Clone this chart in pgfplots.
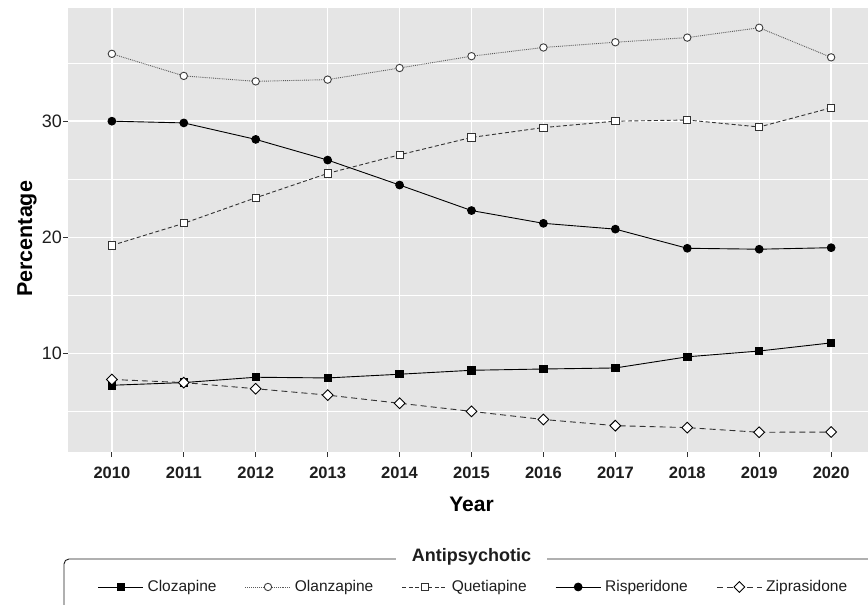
\documentclass[border=0pt]{standalone}
\usepackage{pgfplots}
\usepackage{pgfplotstable}
\pgfplotsset{compat=1.18}
\usepackage{fontspec}
\setmainfont{Liberation Sans}

\definecolor{panel}{RGB}{229,229,229}
\definecolor{tickcol}{RGB}{51,51,51}
\definecolor{labcol}{RGB}{30,30,30}
\definecolor{olanline}{RGB}{90,90,90}
\definecolor{olanmark}{RGB}{60,60,60}
\definecolor{quetline}{RGB}{50,50,50}

% share of prescriptions per year
\pgfplotstableread{
year  cloz  olan   quet   risp   zipr
2010  7.25  35.80  19.30  30.00  7.75
2011  7.48  33.90  21.20  29.85  7.48
2012  7.94  33.43  23.40  28.43  6.95
2013  7.88  33.58  25.50  26.65  6.40
2014  8.20  34.58  27.10  24.50  5.70
2015  8.54  35.60  28.60  22.30  5.00
2016  8.65  36.35  29.45  21.20  4.30
2017  8.74  36.80  30.00  20.70  3.77
2018  9.70  37.20  30.10  19.05  3.60
2019 10.20  38.05  29.50  18.97  3.20
2020 10.90  35.50  31.15  19.10  3.22
}\data

\begin{document}
\begin{tikzpicture}
\begin{axis}[
  scale only axis,
  width=807pt, height=444pt,
  xmin=2009.39, xmax=2020.61,
  ymin=1.5, ymax=39.75,
  axis background/.style={fill=panel},
  axis line style={draw=none},
  xtick={2010,2011,2012,2013,2014,2015,2016,2017,2018,2019,2020},
  xticklabels={2010,2011,2012,2013,2014,2015,2016,2017,2018,2019,2020},
  ytick={10,20,30},
  minor ytick={5,15,25,35},
  xmajorgrids, ymajorgrids, yminorgrids,
  major grid style={white, line width=1.4pt},
  minor grid style={white, line width=0.7pt},
  tick align=outside, tick pos=left,
  major tick length=5pt, minor tick length=0pt,
  major tick style={tickcol, line width=0.9pt},
  /pgf/number format/assume math mode=true,
  xticklabel style={anchor=base, yshift=-21pt, font=\fontsize{16.5}{19}\selectfont\bfseries, text=labcol},
  yticklabel style={anchor=east, inner sep=0pt, xshift=-1pt, font=\fontsize{18}{20}\selectfont, text=labcol},
  xlabel={Year},
  xlabel style={at={(axis description cs:0.5,-0.1351)}, anchor=base, font=\fontsize{21}{24}\selectfont\bfseries},
  ylabel={Percentage},
  ylabel style={at={(axis description cs:-0.0446,0.48)}, anchor=base, font=\fontsize{21.5}{24}\selectfont\bfseries},
  legend columns=5,
  legend cell align=left,
  legend style={at={(0.5012,-0.304)}, anchor=center, draw=none, fill=none,
    inner sep=0pt, font=\fontsize{15.5}{18}\selectfont, text=labcol,
    nodes={inner sep=0pt},
    /tikz/every odd column/.append style={column sep=4pt},
    /tikz/every even column/.append style={column sep=28.5pt}},
  legend image code/.code={\draw[mark repeat=2,mark phase=2,#1] plot coordinates {(0pt,0pt) (22.5pt,0pt) (45pt,0pt)};},
]
\addplot[black, line width=0.9pt, mark=square*, mark size=3.7pt, mark options={solid, fill=black}]
  table[x=year, y=cloz]{\data};
\addlegendentry{Clozapine}
\addplot[olanline, line width=0.9pt, densely dotted, mark=*, mark size=3.7pt, mark options={solid, line width=0.9pt, draw=olanmark, fill=white}]
  table[x=year, y=olan]{\data};
\addlegendentry{Olanzapine}
\addplot[quetline, line width=0.9pt, dash pattern=on 4pt off 2.5pt, mark=square*, mark size=3.6pt, mark options={solid, line width=0.9pt, draw=quetline, fill=white}]
  table[x=year, y=quet]{\data};
\addlegendentry{Quetiapine}
\addplot[black, line width=0.9pt, mark=*, mark size=3.9pt, mark options={solid, fill=black}]
  table[x=year, y=risp]{\data};
\addlegendentry{Risperidone}
\addplot[quetline, line width=0.9pt, dash pattern=on 6pt off 4pt, mark=square*, mark size=3.8pt, mark options={solid, line width=0.9pt, rotate=45, draw=black, fill=white}]
  table[x=year, y=zipr]{\data};
\addlegendentry{Ziprasidone}
\end{axis}

% legend frame with its title on the top edge
\begin{scope}
  \clip (-68pt,-153pt) rectangle (800pt,452pt);
  \draw[rounded corners=5pt, line width=0.9pt, labcol] (-4pt,-107pt) rectangle (812pt,-175pt);
\end{scope}
\node[anchor=base, fill=white, inner xsep=16pt, inner ysep=4pt, text=labcol,
  font=\fontsize{18}{20}\selectfont\bfseries] at (403.5pt,-110pt) {Antipsychotic};

\pgfresetboundingbox
\path[use as bounding box] (-68pt,-153pt) rectangle (800pt,452pt);
\end{tikzpicture}
\end{document}
